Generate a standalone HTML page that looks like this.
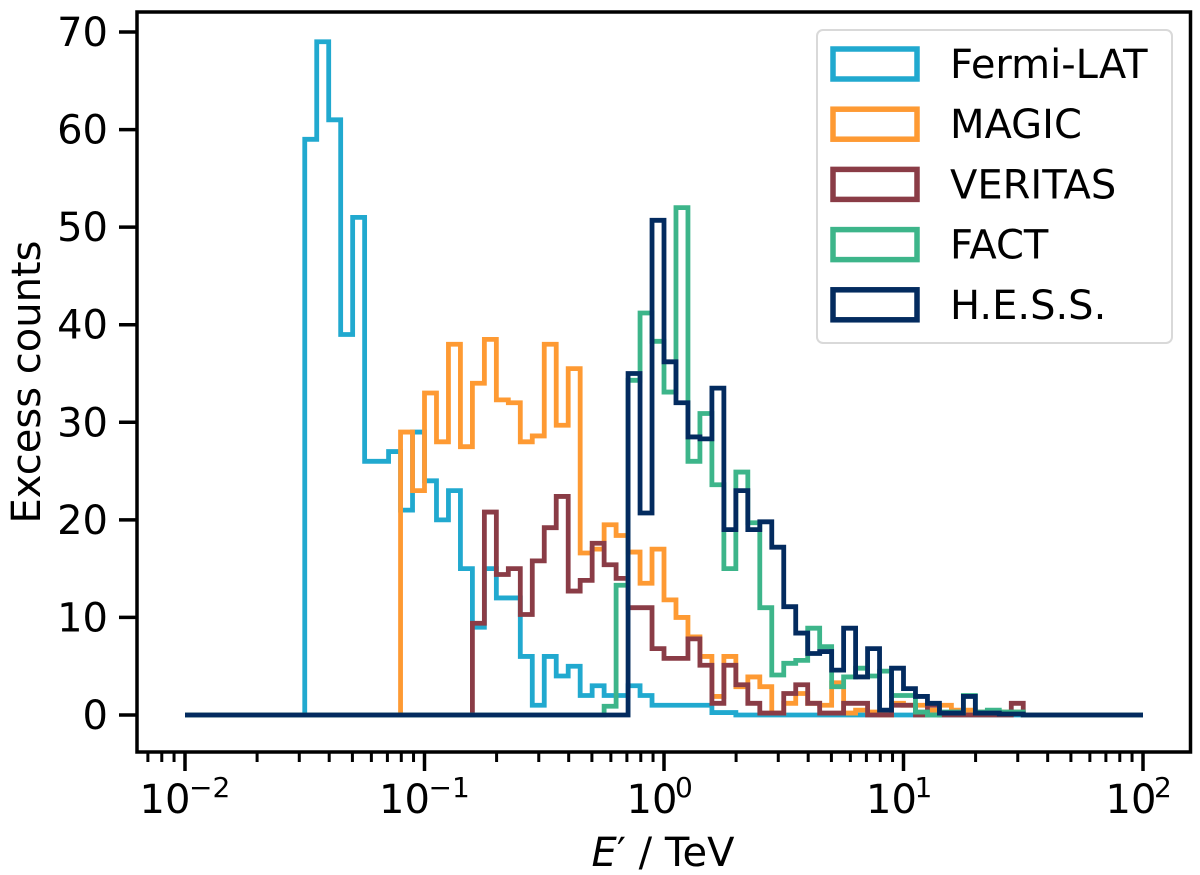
<!DOCTYPE html>
<html><head><meta charset="utf-8"><style>
html,body{margin:0;padding:0;background:#fff;}
svg{display:block;font-family:"DejaVu Sans","Liberation Sans",sans-serif;}
</style></head><body>
<svg id="chart" width="1200" height="875" viewBox="0 0 1200 875" xmlns="http://www.w3.org/2000/svg">
<g id="series"></g>
<g id="axes"></g>
<g id="legend"></g>
</svg>
<script>
// ---- data ----
const binsPerDecade = 20;
const nBins = 80;
const logMin = -2;
const fermiStart = 10;
const fermiValues = [59,69,61,39,51,26,26,27,21,29,24,20,23,15,9,15,12,12,6,1,6,4,5,2,3,2,2,3,2,1,1,1,1,1,0.25,0.25];
const magicStart = 18;
const magicValues = [29,23,33,28,38,27.5,34,38.5,32.3,32,28,28.6,38,29.7,35.5,16.6,17,19.5,18.4,16.7,13.5,17,11.8,10,8,6,1.9,6,2.9,3.9,2.9,0.2,1.2,2.2,1.2,1,3.3,0.2,0.5,0.3,0,1.2,1,1,0.5,1,0.5,0.5,0.3,0.3,0.3,0.3];
const veritasStart = 24;
const veritasValues = [9.4,20.8,14.4,15,10.3,15.8,19.2,22.4,12.7,13.8,17.6,15.4,14,11,11,6.8,5.8,5.8,7.8,5.1,1.2,5.1,3.1,1.2,0.2,0.2,2.2,3.1,1.2,0.2,0.2,1.2,1.2,0,0,1,1,0,1,0,0,0,0,0,0,1.2,0];
const factStart = 35;
const factValues = [0.9,13.3,34.3,41.2,38.3,33.1,52,26,30.9,23.6,15,24.9,19.7,11,4.1,5.3,5.6,8.9,7,2.9,3.9,4.8,4,4.5,2,2,0.3,0,0.3,0.3,2,0.3,0.5,0.3,0.3,0];
const hessStart = 37;
const hessValues = [35,20.7,50.7,36.2,32,28.5,28.3,33.5,19,23,19,19.8,17.2,11.1,8.4,6.3,6.5,4.6,8.9,3.9,6.8,0.5,4.8,2.7,1.9,1.2,0.2,0.2,1.9,0.2,0.2,0.1,0.1];
const seriesNames = ["Fermi-LAT","MAGIC","VERITAS","FACT","H.E.S.S."];
const seriesColors = ["#21a9cf","#fe9a33","#8a3c46","#3db58a","#032b5f"];
const yTicks = [0,10,20,30,40,50,60,70];
const xTickExps = [-2,-1,0,1,2];

// ---- scales ----
const X0=185, DEC=239.5, Y0=715, YPER=9.757;
function xs(logv){return X0+(logv-logMin)*DEC;}
function ys(v){return Y0-v*YPER;}
function edgeX(k){return xs(logMin+k/binsPerDecade);}
const NS="http://www.w3.org/2000/svg";
function mk(tag,attrs,parent){const e=document.createElementNS(NS,tag);for(const k in attrs)e.setAttribute(k,attrs[k]);parent.appendChild(e);return e;}
function full(start,vals){const a=new Array(nBins).fill(0);vals.forEach((v,i)=>{if(start+i<nBins)a[start+i]=v;});return a;}

const all=[full(fermiStart,fermiValues),full(magicStart,magicValues),full(veritasStart,veritasValues),full(factStart,factValues),full(hessStart,hessValues)];
const sg=document.getElementById('series');
all.forEach((arr,si)=>{
  let d="M"+edgeX(0)+" "+ys(0);
  for(let k=0;k<nBins;k++){d+=" L"+edgeX(k)+" "+ys(arr[k])+" L"+edgeX(k+1)+" "+ys(arr[k]);}
  d+=" L"+edgeX(nBins)+" "+ys(0);
  const p=mk('path',{d:d,fill:'none',stroke:seriesColors[si],'stroke-width':4.8,'stroke-linejoin':'miter'},sg);
  
  
});

// ---- axes ----
const ax=document.getElementById('axes');
const frame=mk('rect',{x:137,y:12,width:1053.5,height:740,fill:'none',stroke:'#000','stroke-width':3.5},ax);


yTicks.forEach(v=>{
  const y=ys(v);
  mk('line',{x1:119,x2:137,y1:y,y2:y,stroke:'#000','stroke-width':3.5},ax);
  const t=mk('text',{x:108,y:y+14,'text-anchor':'end','font-size':40,fill:'#000'},ax);
  t.textContent=v;
  
  
});
xTickExps.forEach(e=>{
  const x=xs(e);
  mk('line',{x1:x,x2:x,y1:752,y2:771,stroke:'#000','stroke-width':3.5},ax);
  const t=mk('text',{x:x+(e<0?-20:-12),y:813,'text-anchor':'middle','font-size':40,fill:'#000'},ax);
  t.textContent='10';
  
  
  const s=mk('text',{x:x+(e<0?4:11),y:797,'font-size':28,fill:'#000'},ax);
  s.textContent=(e<0?'\u2212':'')+Math.abs(e);
  
  
});
for(let e=-3;e<=2;e++){for(let m=2;m<=9;m++){
  const x=xs(e+Math.log10(m));
  if(x<139||x>1189)continue;
  mk('line',{x1:x,x2:x,y1:752,y2:762,stroke:'#000','stroke-width':3},ax);
}}
const xl=mk('text',{x:663,y:866,'text-anchor':'middle','font-size':40,fill:'#000'},ax);


xl.innerHTML='<tspan font-style="italic">E</tspan>\u2032 / TeV';
const yl=mk('text',{x:0,y:0,'text-anchor':'middle','font-size':40,fill:'#000',transform:'translate(40,382) rotate(-90)'},ax);
yl.textContent='Excess counts';



// ---- legend ----
const lg=document.getElementById('legend');
const lb=mk('rect',{x:817,y:30,width:355,height:313,rx:6,fill:'#fff','fill-opacity':0.9,stroke:'#d9d9d9','stroke-width':2},lg);


seriesNames.forEach((n,i)=>{
  const y=49+i*60.2;
  const g=mk('g',{},lg);
  
  
  mk('rect',{x:833,y:y,width:84,height:30,fill:'none',stroke:seriesColors[i],'stroke-width':5.5},g);
  const t=mk('text',{x:950,y:y+29,'font-size':40,fill:'#000'},g);
  t.textContent=n;
});
</script>
</body></html>
